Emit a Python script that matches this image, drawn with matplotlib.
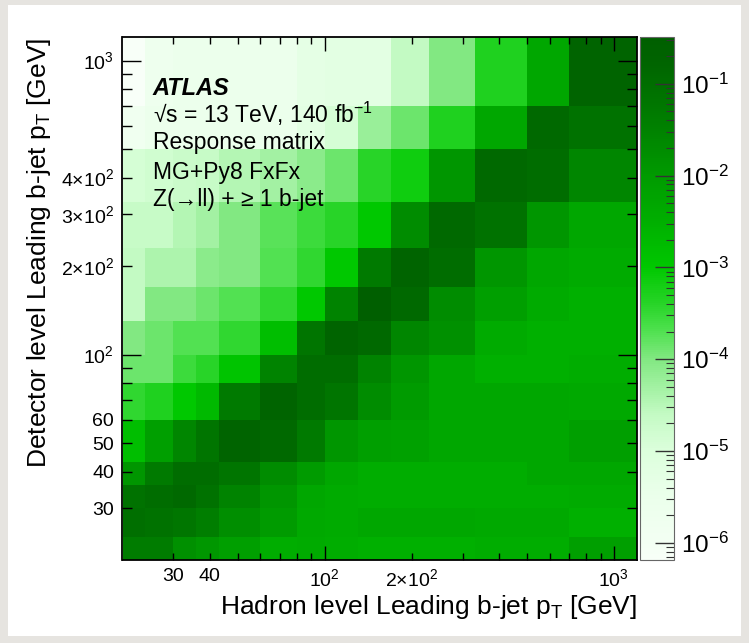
import numpy as np
import matplotlib
matplotlib.use("Agg")
import matplotlib.pyplot as plt
from matplotlib.colors import LogNorm, LinearSegmentedColormap
from matplotlib.patches import Rectangle
from matplotlib.ticker import LogLocator, LogFormatterMathtext, NullFormatter

plt.rcParams['font.family'] = ['Liberation Sans', 'DejaVu Sans']
plt.rcParams['mathtext.fontset'] = 'custom'
plt.rcParams['mathtext.rm'] = 'Liberation Sans'
plt.rcParams['mathtext.it'] = 'Liberation Sans:italic'
plt.rcParams['mathtext.bf'] = 'Liberation Sans:bold'

# bin edges in GeV (same binning on both axes)
hadron_edges = [20, 24, 30, 36, 43, 60, 80, 100, 130, 170, 230, 330, 500, 700, 1200]
detector_edges = [20, 24, 30, 36, 43, 60, 80, 100, 130, 170, 230, 330, 500, 700, 1200]

# response matrix rows, one per detector-level bin (bottom to top),
# columns follow the hadron-level bins
det_20_24 = [0.045, 0.045, 0.016, 0.012, 0.008, 0.0035, 0.004, 0.0035, 0.003, 0.003, 0.003, 0.0035, 0.0035, 0.008]
det_24_30 = [0.09, 0.08, 0.06, 0.04, 0.018, 0.01, 0.0045, 0.004, 0.005, 0.005, 0.005, 0.0045, 0.0045, 0.003]
det_30_36 = [0.08, 0.1, 0.13, 0.08, 0.03, 0.0125, 0.005, 0.004, 0.0035, 0.0035, 0.0035, 0.0035, 0.0035, 0.004]
det_36_43 = [0.0125, 0.05, 0.1, 0.1, 0.063, 0.02, 0.01, 0.005, 0.0035, 0.0035, 0.0035, 0.0035, 0.005, 0.005]
det_43_60 = [0.0016, 0.008, 0.025, 0.063, 0.18, 0.13, 0.05, 0.0125, 0.008, 0.007, 0.005, 0.005, 0.005, 0.008]
det_60_80 = [3.5e-4, 5e-4, 1e-3, 0.002, 0.05, 0.18, 0.1, 0.063, 0.02, 0.01, 0.005, 0.005, 0.005, 0.0045]
det_80_100 = [1.4e-4, 1.4e-4, 2.8e-4, 4e-4, 1.2e-3, 0.03, 0.1, 0.1, 0.03, 0.0125, 0.005, 0.003, 0.003, 0.0035]
det_100_130 = [1e-4, 1.4e-4, 2e-4, 2e-4, 3.5e-4, 1.6e-3, 0.063, 0.18, 0.13, 0.025, 0.016, 0.004, 0.003, 0.003]
det_130_170 = [2.5e-5, 1e-4, 1e-4, 1.4e-4, 2e-4, 3.5e-4, 1e-3, 0.03, 0.3, 0.13, 0.02, 0.008, 0.004, 0.003]
det_170_230 = [2.5e-5, 4e-5, 4e-5, 8e-5, 1e-4, 2e-4, 3.5e-4, 1e-3, 0.05, 0.18, 0.1, 0.0125, 0.005, 0.004]
det_230_330 = [2.2e-5, 2.2e-5, 3.5e-5, 5e-5, 1e-4, 1.8e-4, 2.8e-4, 4e-4, 1e-3, 0.02, 0.13, 0.08, 0.0125, 0.005]
det_330_500 = [1.3e-5, 1.6e-5, 2e-5, 2.2e-5, 3.5e-5, 5e-5, 8e-5, 1.4e-4, 4e-4, 7e-4, 0.0125, 0.13, 0.1, 0.025]
det_500_700 = [1.6e-6, 3e-6, 3e-6, 3e-6, 3e-6, 3e-6, 6e-6, 1.3e-5, 6e-5, 1.4e-4, 5e-4, 0.005, 0.13, 0.08]
det_700_1200 = [6.5e-7, 2e-6, 3e-6, 3e-6, 3e-6, 3e-6, 5e-6, 6e-6, 6e-6, 2.5e-5, 1e-4, 5e-4, 0.005, 0.18]

response = np.array([det_20_24, det_24_30, det_30_36, det_36_43, det_43_60, det_60_80,
                     det_80_100, det_100_130, det_130_170, det_170_230, det_230_330,
                     det_330_500, det_500_700, det_700_1200])

vmin, vmax = 6.5e-7, 0.32

# white -> green palette, anchors given in log10(value)
lo, hi = np.log10(vmin), np.log10(vmax)
anchors = [(lo, '#f8fff8'), (-6.0, '#f3fff3'), (-5.5, '#ebffeb'), (-5.0, '#dcffdc'),
           (-4.6, '#c3fac3'), (-4.2, '#96ee96'), (-4.0, '#82e882'), (-3.7, '#50e150'),
           (-3.4, '#28d428'), (-3.0, '#00c800'), (-2.5, '#00af00'), (-2.0, '#009b00'),
           (-1.5, '#008200'), (-1.0, '#006e00'), (-0.75, '#006400'), (hi, '#005f00')]
stops = [(0.0 if i == 0 else 1.0 if i == len(anchors) - 1 else (a - lo) / (hi - lo), c)
         for i, (a, c) in enumerate(anchors)]
cmap = LinearSegmentedColormap.from_list('atlas_green', stops)

fig = plt.figure(figsize=(7.49, 6.43), dpi=100, facecolor='#e6e4e0')
fig.patches.append(Rectangle((8 / 749, 7 / 643), 733 / 749, 631 / 643,
                             transform=fig.transFigure, facecolor='white',
                             edgecolor='none', zorder=-10))

ax = fig.add_axes([122.5 / 749, 83 / 643, 514.2 / 749, 522.7 / 643])
mesh = ax.pcolormesh(hadron_edges, detector_edges, response, cmap=cmap,
                     norm=LogNorm(vmin=vmin, vmax=vmax), shading='flat')
ax.set_xscale('log')
ax.set_yscale('log')
ax.set_xlim(20, 1200)
ax.set_ylim(20, 1200)

ax.set_xticks([100, 1000])
ax.set_xticklabels([r'$10^{2}$', r'$10^{3}$'])
xminor = [30, 40, 50, 60, 70, 80, 90, 200, 300, 400, 500, 600, 700, 800, 900]
ax.set_xticks(xminor, minor=True)
ax.set_xticklabels(['30', '40', '', '', '', '', '', r'$2{\times}10^{2}$',
                    '', '', '', '', '', '', ''], minor=True)

ax.set_yticks([100, 1000])
ax.set_yticklabels([r'$10^{2}$', r'$10^{3}$'])
yminor = [30, 40, 50, 60, 70, 80, 90, 200, 300, 400, 500, 600, 700, 800, 900]
ax.set_yticks(yminor, minor=True)
ax.set_yticklabels(['30', '40', '50', '60', '', '', '', r'$2{\times}10^{2}$',
                    r'$3{\times}10^{2}$', r'$4{\times}10^{2}$', '', '', '', '', ''],
                   minor=True)

ax.tick_params(which='both', direction='in', top=True, right=True,
               labelsize=14, width=1, color='black', pad=6)
ax.tick_params(axis='y', which='major', length=14)
ax.tick_params(axis='y', which='minor', length=7)
ax.tick_params(axis='x', which='major', length=10)
ax.tick_params(axis='x', which='minor', length=5)
for s in ax.spines.values():
    s.set_linewidth(1.3)

ax.set_xlabel(r'Hadron level Leading b-jet p$_{\rm T}$ [GeV]', fontsize=19,
              loc='right', labelpad=2)
ax.set_ylabel(r'Detector level Leading b-jet p$_{\rm T}$ [GeV]', fontsize=19,
              loc='top', labelpad=6)

tx = 0.059
ax.text(tx, 0.8900, 'ATLAS', fontsize=17, fontweight='bold', fontstyle='italic',
        transform=ax.transAxes, va='baseline')
ax.text(tx, 0.8370, '\u221As = 13 TeV, 140 fb$^{-1}$', fontsize=16.5,
        transform=ax.transAxes, va='baseline')
ax.text(tx, 0.7863, 'Response matrix', fontsize=16.5, transform=ax.transAxes, va='baseline')
ax.text(tx, 0.7289, 'MG+Py8 FxFx', fontsize=16.5, transform=ax.transAxes, va='baseline')
ax.text(tx, 0.6773, 'Z(\u2192ll) + \u2265 1 b-jet', fontsize=16.5,
        transform=ax.transAxes, va='baseline')

cax = fig.add_axes([640 / 749, 83 / 643, 34 / 749, 522.7 / 643])
cb = fig.colorbar(mesh, cax=cax)
cb.outline.set_linewidth(0.8)
cb.outline.set_edgecolor('#666666')
cax.yaxis.set_major_locator(LogLocator(base=10, numticks=10))
cax.yaxis.set_major_formatter(LogFormatterMathtext())
cax.yaxis.set_minor_locator(LogLocator(base=10, subs=np.arange(2, 10), numticks=10))
cax.yaxis.set_minor_formatter(NullFormatter())
cax.tick_params(which='both', direction='in', right=True, left=False,
                labelsize=17.5, pad=5, color='#333333')
cax.tick_params(which='major', length=14, width=1)
cax.tick_params(which='minor', length=6, width=0.8)

fig.savefig('out.png', dpi=100, facecolor=fig.get_facecolor())
